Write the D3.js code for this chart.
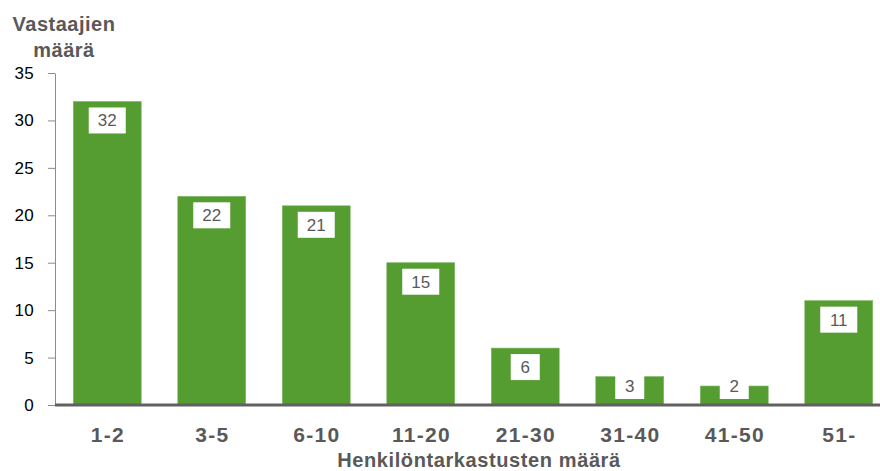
<!DOCTYPE html>
<html>
<head>
<meta charset="utf-8">
<script src="https://cdn.jsdelivr.net/npm/d3@7"></script>
<style>
  html, body { margin: 0; padding: 0; background: #fff; }
  svg { display: block; font-family: "Liberation Sans", Arial, sans-serif; }
</style>
</head>
<body>
<svg id="chart" width="880" height="471"></svg>
<script>
// Respondents by number of body searches
const categories = ["1-2", "3-5", "6-10", "11-20", "21-30", "31-40", "41-50", "51-"];
const values = [32, 22, 21, 15, 6, 3, 2, 11];
const yTicks = [0, 5, 10, 15, 20, 25, 30, 35];
const yTitleLines = ["Vastaajien", "määrä"];
const xTitle = "Henkilöntarkastusten määrä";

const svg = d3.select("#chart");
const barColor = "#559c31";
const textGray = "#595959";

const x = d3.scaleBand()
  .domain(categories)
  .range([55, 891])
  .paddingInner(0.35)
  .paddingOuter(0.175);

const y = d3.scaleLinear()
  .domain([0, 35])
  .range([405, 73]);

// Y axis
const yAxis = svg.append("g")
  .attr("transform", "translate(55,0)")
  .call(d3.axisLeft(y).tickValues(yTicks).tickSize(7).tickPadding(14).tickSizeOuter(0));
yAxis.select(".domain").attr("stroke", "#8c8c8c");
yAxis.selectAll(".tick line").attr("stroke", "#8c8c8c");
yAxis.selectAll(".tick text")
  .attr("fill", "#000")
  .style("font-size", "17px")
  .style("letter-spacing", "0.3px")
  .style("font-family", "'Liberation Sans', Arial, sans-serif");

// Bars
svg.append("g").selectAll("rect")
  .data(values)
  .join("rect")
  .attr("x", (d, i) => x(categories[i]))
  .attr("y", d => y(d))
  .attr("width", x.bandwidth())
  .attr("height", d => y(0) - y(d))
  .attr("fill", barColor)
  .attr("stroke", "#7fb864")
  .attr("stroke-width", 0.6);

// Baseline
svg.append("line")
  .attr("x1", 55).attr("x2", 880)
  .attr("y1", y(0)).attr("y2", y(0))
  .attr("stroke", "#606060")
  .attr("stroke-width", 3);

// Value labels in white boxes
const labelH = 26;
const labels = svg.append("g").selectAll("g")
  .data(values)
  .join("g");
labels.each(function (d, i) {
  const g = d3.select(this);
  const cx = x(categories[i]) + x.bandwidth() / 2;
  let top = y(d) + 6;
  top = Math.min(top, y(0) - 6 - labelH);
  const w = String(d).length > 1 ? 37 : 29;
  g.append("rect")
    .attr("x", cx - w / 2)
    .attr("y", top)
    .attr("width", w)
    .attr("height", labelH)
    .attr("fill", "#fff");
  g.append("text")
    .attr("x", cx)
    .attr("y", top + labelH / 2 + 6)
    .attr("text-anchor", "middle")
    .attr("fill", textGray)
    .style("font-size", "17px")
    .text(d);
});

// Category labels
svg.append("g").selectAll("text")
  .data(categories)
  .join("text")
  .attr("x", d => x(d) + x.bandwidth() / 2 + 0.7)
  .attr("y", 442)
  .attr("text-anchor", "middle")
  .attr("fill", textGray)
  .style("font-size", "21px")
  .style("letter-spacing", "1.3px")
  .style("font-weight", "bold")
  .text(d => d);

// Axis titles
svg.append("text")
  .attr("x", 479)
  .attr("y", 467)
  .attr("text-anchor", "middle")
  .attr("fill", textGray)
  .style("font-size", "20px")
  .style("letter-spacing", "0.6px")
  .style("font-weight", "bold")
  .text(xTitle);

svg.append("g").selectAll("text")
  .data(yTitleLines)
  .join("text")
  .attr("x", 64)
  .attr("y", (d, i) => 31 + i * 26)
  .attr("text-anchor", "middle")
  .attr("fill", textGray)
  .style("font-size", "20px")
  .style("letter-spacing", "0.5px")
  .style("font-weight", "bold")
  .text(d => d);
</script>
</body>
</html>
